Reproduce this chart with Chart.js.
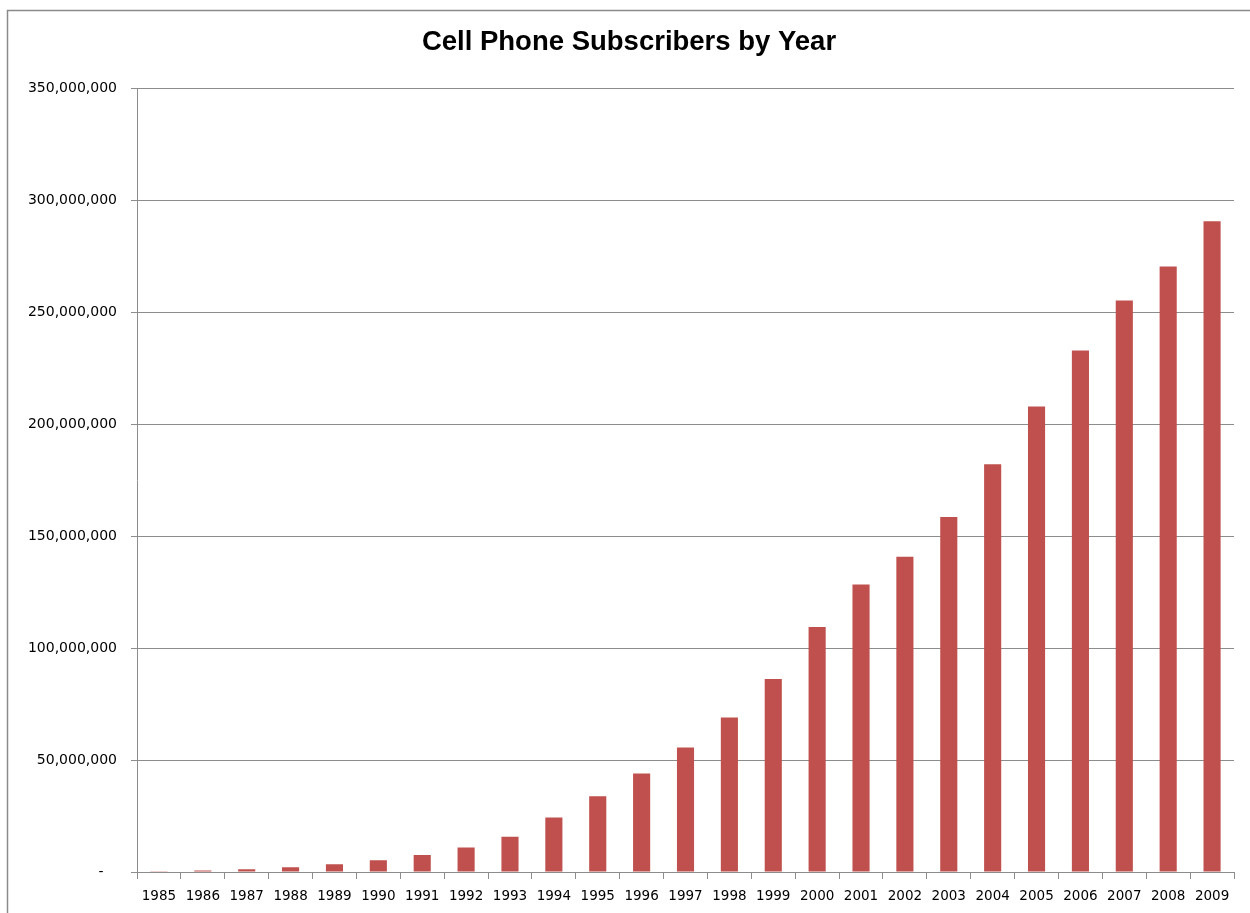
<!DOCTYPE html>
<html>
<head>
<meta charset="utf-8">
<script src="https://cdn.jsdelivr.net/npm/chart.js@4/dist/chart.umd.min.js"></script>
<style>
html,body{margin:0;padding:0;background:#fff;}
#wrap{width:1250px;height:913px;position:relative;}
</style>
</head>
<body>
<div id="wrap"><canvas id="c" width="1250" height="913"></canvas></div>
<script>
const years = ['1985','1986','1987','1988','1989','1990','1991','1992','1993','1994','1995','1996','1997','1998','1999','2000','2001','2002','2003','2004','2005','2006','2007','2008','2009'];
const subscribers = [340000, 680000, 1200000, 2100000, 3500000, 5300000, 7600000, 11000000, 15800000, 24300000, 33800000, 44000000, 55600000, 69000000, 86200000, 109400000, 128400000, 140800000, 158600000, 182200000, 208000000, 233000000, 255300000, 270500000, 290700000];
const chartTitle = 'Cell Phone Subscribers by Year';
const yMax = 350000000;
const yStep = 50000000;

const frame = {
  id: 'frame',
  afterLayout(chart) {
    const t = chart.titleBlock;
    if (t) { t.left += 12; t.right += 12; }
  },
  beforeDraw(chart) {
    const ctx = chart.ctx;
    ctx.save();
    ctx.strokeStyle = '#8a8a8a';
    ctx.lineWidth = 1.5;
    ctx.beginPath();
    ctx.moveTo(7.5, 913);
    ctx.lineTo(7.5, 10.5);
    ctx.lineTo(1250, 10.5);
    ctx.stroke();
    ctx.restore();
  }
};

new Chart(document.getElementById('c'), {
  type: 'bar',
  data: {
    labels: years,
    datasets: [{
      data: subscribers,
      backgroundColor: '#C0504D',
      borderWidth: 0,
      barPercentage: 0.39,
      categoryPercentage: 1.0
    }]
  },
  options: {
    responsive: false,
    animation: false,
    devicePixelRatio: 1,
    layout: { padding: { top: 0, left: 0, right: 16, bottom: 0 } },
    plugins: {
      legend: { display: false },
      tooltip: { enabled: false },
      title: {
        display: true,
        text: chartTitle,
        color: '#000',
        font: { family: 'Liberation Sans', size: 27.5, weight: 'bold', lineHeight: 1.2 },
        padding: { top: 26, bottom: 29.5 }
      }
    },
    scales: {
      x: {
        offset: true,
        grid: {
          offset: true,
          drawOnChartArea: false,
          drawTicks: true,
          tickLength: 7,
          color: '#8c8c8c',
          lineWidth: 1
        },
        border: { display: true, color: '#8c8c8c', width: 1 },
        ticks: {
          color: '#000',
          font: { family: 'DejaVu Sans', size: 13.5 },
          padding: 9,
          maxRotation: 0,
          autoSkip: false
        },
        afterFit(scale) { scale.height = 41; }
      },
      y: {
        min: 0,
        max: yMax,
        grid: {
          color: '#8c8c8c',
          lineWidth: 1,
          drawTicks: true,
          tickLength: 6
        },
        border: { display: true, color: '#8c8c8c', width: 1 },
        ticks: {
          stepSize: yStep,
          color: '#000',
          font: { family: 'DejaVu Sans', size: 14 },
          padding: 14,
          callback(v) { return v === 0 ? '-   ' : v.toLocaleString('en-US'); }
        },
        afterFit(scale) { scale.width = 137; }
      }
    }
  },
  plugins: [frame]
});
</script>
</body>
</html>
